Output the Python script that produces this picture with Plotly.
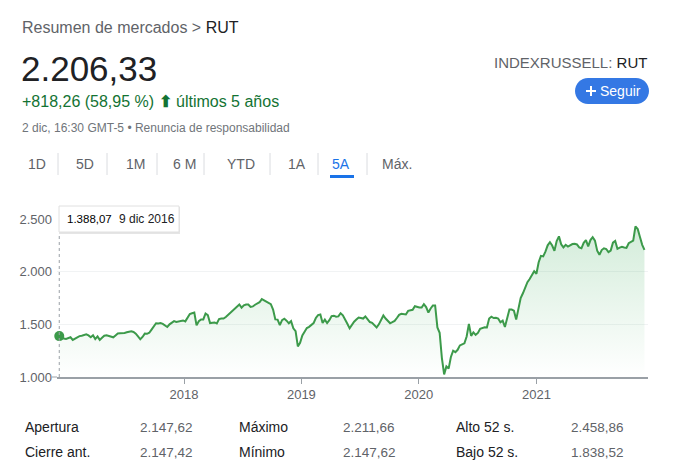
import plotly.graph_objects as go
import pandas as pd

# ---------------- data ----------------
start_date = "2016-12-09"
values = [
    1388, 1375, 1365, 1362, 1370, 1377, 1352, 1365, 1378, 1388,
    1392, 1398, 1405, 1395, 1378, 1396, 1360, 1385, 1352, 1372,
    1392, 1397, 1390, 1385, 1377, 1395, 1413, 1415, 1415, 1418,
    1424, 1428, 1434, 1428, 1412, 1385, 1358, 1380, 1412, 1410,
    1420, 1450, 1485, 1510, 1508, 1512, 1505, 1490, 1475, 1500,
    1520, 1531, 1522, 1525, 1532, 1537, 1528, 1565, 1598, 1605,
    1612, 1490, 1530, 1547, 1547, 1603, 1588, 1512, 1515, 1518,
    1509, 1550, 1556, 1555, 1570, 1590, 1612, 1630, 1655, 1672,
    1688, 1658, 1680, 1688, 1688, 1665, 1670, 1686, 1697, 1710,
    1740, 1728, 1714, 1708, 1692, 1640, 1547, 1545, 1492, 1540,
    1553, 1535, 1510, 1530, 1462, 1435, 1290, 1325, 1395, 1430,
    1465, 1476, 1490, 1512, 1560, 1588, 1594, 1512, 1545, 1512,
    1540, 1578, 1582, 1572, 1575, 1605, 1585, 1550, 1505, 1462,
    1500, 1525, 1545, 1565, 1560, 1555, 1575, 1548, 1522, 1515,
    1495, 1470, 1500, 1540, 1584, 1555, 1530, 1510, 1520, 1532,
    1560, 1590, 1600, 1594, 1594, 1628, 1632, 1638, 1672, 1665,
    1660, 1660, 1692, 1664, 1612, 1650, 1679, 1679, 1471, 1420,
    1180, 1025, 1100, 1080, 1190, 1250, 1236, 1258, 1300, 1310,
    1320, 1385, 1505, 1390, 1424, 1400, 1418, 1458, 1468, 1472,
    1470, 1555, 1572, 1560, 1562, 1555, 1520, 1535, 1475, 1550,
    1641, 1640, 1630, 1545, 1660, 1750, 1795, 1850, 1900, 1930,
    1972, 2005, 1980, 2090, 2150, 2145, 2190, 2250, 2280, 2248,
    2198, 2290, 2335, 2260, 2230, 2255, 2238, 2250, 2262, 2264,
    2258, 2230, 2222, 2274, 2300, 2240, 2300, 2328, 2295, 2200,
    2160, 2205, 2222, 2215, 2185, 2200, 2275, 2292, 2217, 2228,
    2236, 2230, 2226, 2270, 2285, 2295, 2430, 2405, 2330, 2255,
    2206.33,
]
dates = pd.date_range(start_date, periods=len(values), freq="7D")

hover_value = 1388.07
hover_label = "1.388,07"
hover_date_label = "9 dic 2016"

y_ticks = [1000, 1500, 2000, 2500]
y_tick_labels = ["1.000", "1.500", "2.000", "2.500"]
x_tick_dates = ["2018-01-01", "2019-01-01", "2020-01-01", "2021-01-01"]
x_tick_labels = ["2018", "2019", "2020", "2021"]

tabs = ["1D", "5D", "1M", "6 M", "YTD", "1A", "5A", "Máx."]
active_tab = "5A"

stat_labels_a = ["Apertura", "Cierre ant."]
stat_values_a = ["2.147,62", "2.147,42"]
stat_labels_b = ["Máximo", "Mínimo"]
stat_values_b = ["2.211,66", "2.147,62"]
stat_labels_c = ["Alto 52 s.", "Bajo 52 s."]
stat_values_c = ["2.458,86", "1.838,52"]

# ---------------- layout helpers ----------------
W, H = 690, 473
L, R, T, B = 57, 648, 219, 377


def px(x):
    return (x - L) / (R - L)


def py(y):
    return (B - y) / (B - T)


FONT = "Arial, Liberation Sans, sans-serif"
DARK = "#202124"
GRAY = "#5f6368"
LGRAY = "#70757a"
GREEN_TXT = "#137333"
LINE_GREEN = "#3c9a4a"
BLUE = "#1a73e8"

fig = go.Figure()

fig.add_trace(go.Scatter(
    x=dates, y=values, mode="lines",
    line=dict(color=LINE_GREEN, width=2),
    fill="tozeroy",
    fillgradient=dict(type="vertical",
                      colorscale=[[0, "rgba(52,168,83,0)"], [1, "rgba(52,168,83,0.22)"]],
                      start=1000, stop=2450),
    hoverinfo="skip", showlegend=False,
))
fig.add_trace(go.Scatter(
    x=[dates[0]], y=[hover_value], mode="markers",
    marker=dict(color=LINE_GREEN, size=10),
    cliponaxis=False,
    hoverinfo="skip", showlegend=False,
))

shapes = []
ann = []


def text(x, y, s, size, color, anchor="left", family=FONT):
    ann.append(dict(x=px(x), y=py(y), xref="paper", yref="paper", text=s,
                    showarrow=False, xanchor=anchor, yanchor="middle",
                    font=dict(size=size, color=color, family=family)))


# header
text(20, 27, f"Resumen de mercados &gt; <span style='color:{DARK}'>RUT</span>", 16, GRAY)
text(19, 68, "2.206,33", 35, DARK)
text(20, 101, "+818,26 (58,95 %) <b>⬆</b> últimos 5 años", 16, GREEN_TXT)
text(20, 128, "2 dic, 16:30 GMT-5 • Renuncia de responsabilidad", 12, LGRAY)
text(649, 62, f"INDEXRUSSELL: <span style='color:{DARK}'>RUT</span>", 15, GRAY, anchor="right")

# follow button (pill)
bx0, bx1, by0, by1 = 575, 649, 78, 104
r = (by1 - by0) / 2
k = 0.5523 * r
path = (f"M {px(bx0 + r)},{py(by0)} L {px(bx1 - r)},{py(by0)} "
        f"C {px(bx1 - r + k)},{py(by0)} {px(bx1)},{py(by0 + r - k)} {px(bx1)},{py(by0 + r)} "
        f"C {px(bx1)},{py(by0 + r + k)} {px(bx1 - r + k)},{py(by1)} {px(bx1 - r)},{py(by1)} "
        f"L {px(bx0 + r)},{py(by1)} "
        f"C {px(bx0 + r - k)},{py(by1)} {px(bx0)},{py(by0 + r + k)} {px(bx0)},{py(by0 + r)} "
        f"C {px(bx0)},{py(by0 + r - k)} {px(bx0 + r - k)},{py(by0)} {px(bx0 + r)},{py(by0)} Z")
shapes.append(dict(type="path", path=path, xref="paper", yref="paper",
                   fillcolor="#3478e4", line=dict(width=0)))
shapes.append(dict(type="line", xref="paper", yref="paper", x0=px(586), x1=px(596),
                   y0=py(91), y1=py(91), line=dict(color="white", width=2)))
shapes.append(dict(type="line", xref="paper", yref="paper", x0=px(591), x1=px(591),
                   y0=py(86), y1=py(96), line=dict(color="white", width=2)))
text(620, 91, "Seguir", 14, "white", anchor="center")

# tabs
tab_centers = [37, 85, 135, 184, 241, 297, 341, 397]
seps = [58, 107, 157, 204, 270, 318, 367]
for name, cx in zip(tabs, tab_centers):
    text(cx, 164, name, 14, BLUE if name == active_tab else GRAY, anchor="center")
for sx in seps:
    shapes.append(dict(type="line", xref="paper", yref="paper", x0=px(sx), x1=px(sx),
                       y0=py(153), y1=py(175), line=dict(color="#dadce0", width=1)))
shapes.append(dict(type="rect", xref="paper", yref="paper", x0=px(330), x1=px(354),
                   y0=py(175), y1=py(178), fillcolor=BLUE, line=dict(width=0)))

# hover guide + tooltip
shapes.append(dict(type="line", xref="x", yref="paper", x0=dates[0], x1=dates[0],
                   y0=0, y1=py(233), line=dict(color="#9aa0a6", width=1, dash="dot")))
shapes.append(dict(type="rect", xref="paper", yref="paper", x0=px(59), x1=px(180),
                   y0=py(207), y1=py(234), fillcolor="rgba(0,0,0,0.10)", line=dict(width=0)))
shapes.append(dict(type="rect", xref="paper", yref="paper", x0=px(59), x1=px(179),
                   y0=py(206), y1=py(232), fillcolor="white",
                   line=dict(color="#e0e0e0", width=1)))
text(65, 219, hover_label, 11.5, "#000000")
text(117, 219, hover_date_label, 12, DARK)

# left axis tick at 1.000
shapes.append(dict(type="line", xref="paper", yref="paper", x0=px(52), x1=0,
                   y0=0, y1=0, line=dict(color="#9aa0a6", width=1)))

# stats table
for i in range(2):
    yy = 427 + 25 * i
    text(23, yy, stat_labels_a[i], 14, DARK)
    text(138, yy, stat_values_a[i], 13.5, GRAY)
    text(237, yy, stat_labels_b[i], 14, DARK)
    text(341, yy, stat_values_b[i], 13.5, GRAY)
    text(454, yy, stat_labels_c[i], 14, DARK)
    text(569, yy, stat_values_c[i], 13.5, GRAY)

fig.update_layout(
    width=W, height=H,
    margin=dict(l=L, r=W - R, t=T, b=H - B, pad=0),
    paper_bgcolor="white", plot_bgcolor="white",
    font=dict(family=FONT, color=GRAY),
    shapes=shapes, annotations=ann,
    showlegend=False,
    xaxis=dict(
        type="date",
        range=["2016-12-02", "2021-12-14"],
        tickvals=x_tick_dates, ticktext=x_tick_labels,
        showgrid=False, zeroline=False,
        showline=True, linecolor="#9aa0a6", linewidth=1.5,
        ticks="outside", ticklen=5, tickcolor="#9aa0a6", tickwidth=1,
        tickfont=dict(size=13, color=GRAY, family=FONT),
        fixedrange=True,
    ),
    yaxis=dict(
        range=[1000, 2500],
        tickvals=y_ticks, ticktext=y_tick_labels,
        showgrid=True, gridcolor="#f1f3f4", gridwidth=1,
        zeroline=False, showline=False, ticks="",
        ticklabelstandoff=4,
        tickfont=dict(size=13, color=GRAY, family=FONT),
        fixedrange=True,
    ),
)

fig.write_html("out.html", config={"displayModeBar": False})
